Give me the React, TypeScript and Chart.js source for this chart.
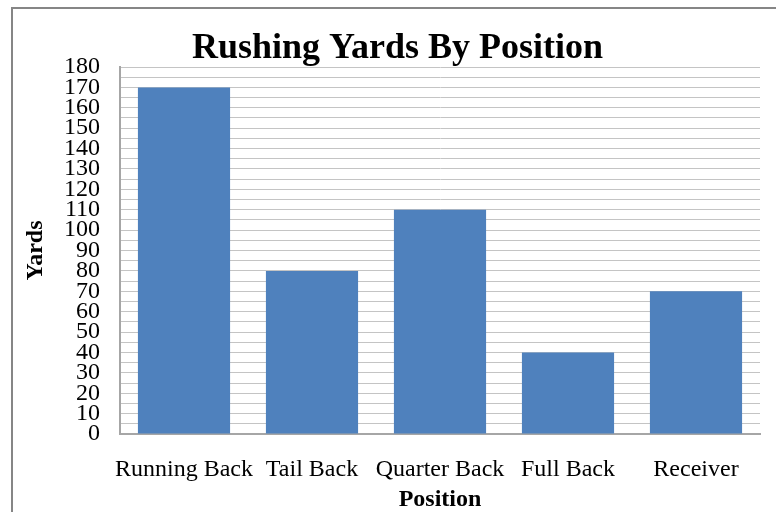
import React, { useEffect, useRef } from 'react';
import { Chart, registerables } from 'chart.js';

Chart.register(...registerables);

const chartTitle = 'Rushing Yards By Position';
const categories = ['Running Back', 'Tail Back', 'Quarter Back', 'Full Back', 'Receiver'];
const yards = [170, 80, 110, 40, 70];
const yMin = 0;
const yMax = 180;
const yGridStep = 5;
const yLabelStep = 10;
const xAxisTitle = 'Position';
const yAxisTitle = 'Yards';

const SERIF = '"Liberation Serif", "Times New Roman", Times, serif';

export default function App() {
  const ref = useRef<HTMLCanvasElement>(null);

  useEffect(() => {
    if (!ref.current) return;
    const titlePlugin = {
      id: 'excelTitle',
      afterDraw(chart: any) {
        const ctx = chart.ctx;
        ctx.save();
        ctx.font = `bold 36px ${SERIF}`;
        ctx.fillStyle = '#000000';
        ctx.textAlign = 'center';
        ctx.textBaseline = 'alphabetic';
        ctx.fillText(chartTitle, chart.width / 2, 49);
        ctx.restore();
      },
    };

    const chart = new Chart(ref.current, {
      type: 'bar',
      data: {
        labels: categories,
        datasets: [
          {
            label: yAxisTitle,
            data: yards,
            backgroundColor: '#4F81BD',
            borderWidth: 0,
            barPercentage: 0.72,
            categoryPercentage: 1,
          },
        ],
      },
      plugins: [titlePlugin],
      options: {
        responsive: false,
        animation: false,
        devicePixelRatio: 1,
        layout: { padding: { top: 58, right: 22, left: 0, bottom: 0 } },
        plugins: {
          legend: { display: false },
          title: { display: false },
          tooltip: { enabled: false },
        },
        scales: {
          x: {
            grid: { display: false, drawTicks: false },
            border: { display: true, color: '#a6a6a6', width: 2 },
            ticks: {
              color: '#000000',
              font: { family: SERIF, size: 24 },
              padding: 21,
              autoSkip: false,
              maxRotation: 0,
            },
            title: {
              display: true,
              text: xAxisTitle,
              color: '#000000',
              font: { family: SERIF, size: 24, weight: 'bold' },
              padding: { top: 0, bottom: 15 },
            },
            afterFit(scale: any) {
              scale.height = 95;
            },
          },
          y: {
            min: yMin,
            max: yMax,
            grid: { color: '#c4c4c4', lineWidth: 1, drawTicks: false },
            border: { display: true, color: '#a6a6a6', width: 2 },
            ticks: {
              stepSize: yGridStep,
              autoSkip: false,
              color: '#000000',
              font: { family: SERIF, size: 24 },
              padding: 20,
              callback: (v: any) => (Number(v) % yLabelStep === 0 ? String(v) : ''),
            },
            title: {
              display: true,
              text: yAxisTitle,
              color: '#000000',
              font: { family: SERIF, size: 24, weight: 'bold' },
              padding: { top: 8, bottom: 0 },
            },
            afterFit(scale: any) {
              scale.width = 107;
            },
          },
        },
      },
    } as any);

    return () => chart.destroy();
  }, []);

  return (
    <div
      style={{
        position: 'fixed',
        left: 0,
        top: 0,
        width: 776,
        height: 512,
        overflow: 'hidden',
        background: '#ffffff',
      }}
    >
      <div
        style={{
          position: 'absolute',
          left: 11,
          top: 7,
          width: 800,
          height: 600,
          border: '2px solid #868686',
          background: '#ffffff',
        }}
      >
        <canvas
          ref={ref}
          width={769}
          height={520}
          style={{ position: 'absolute', left: 0, top: 0, width: 769, height: 520 }}
        />
      </div>
    </div>
  );
}
